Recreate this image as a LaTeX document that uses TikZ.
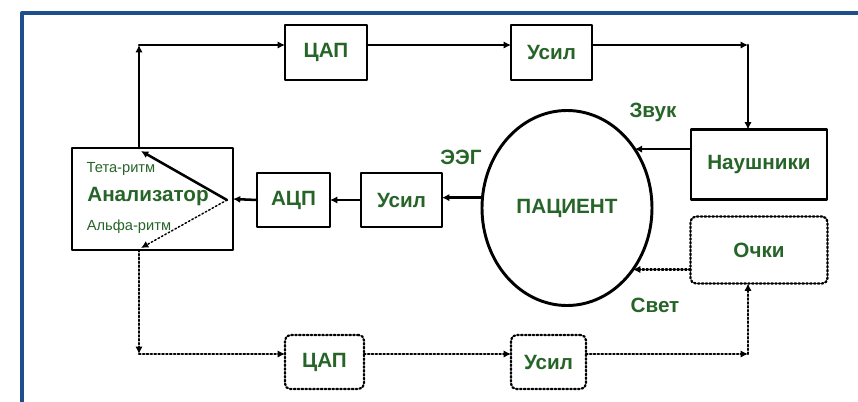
\documentclass[tikz,border=0pt]{standalone}
\usepackage{fontspec}
\setmainfont{Liberation Sans}
\usetikzlibrary{arrows.meta,shapes.geometric}
\definecolor{txtgreen}{RGB}{38,100,40}
\definecolor{frameblue}{RGB}{30,78,140}
\begin{document}
\begin{tikzpicture}[x=.75pt,y=-.75pt,line cap=round,line join=round,
  font=\fontsize{15.5}{18}\selectfont\bfseries,
  blk/.style={draw,line width=2.2pt,inner sep=0pt,outer sep=0pt,text=txtgreen},
  dblk/.style={blk,line width=1.7pt,dash pattern=on 1.2pt off 1.7pt,rounded corners=4pt},
  sig/.style={line width=1.9pt,-{Latex[length=5.5pt,width=5.5pt]}},
  dsig/.style={sig,line width=1.6pt,dash pattern=on 1.2pt off 1.7pt},
  lbl/.style={text=txtgreen,inner sep=0pt},
  smalllbl/.style={lbl,font=\fontsize{11}{13}\selectfont}]
  \useasboundingbox (0,0) rectangle (858,401);
  % frame
  \draw[frameblue,line width=2.5pt] (22,410) -- (22,13) -- (870,13);
  % blocks
  \node[blk,minimum width=61.5pt,minimum height=41.25pt] (dac1) at (326,52.5) {ЦАП};
  \node[blk,minimum width=60.75pt,minimum height=41.25pt] (amp1) at (551.5,52.5) {Усил};
  \node[blk,minimum width=102pt,minimum height=52.5pt] (phones) at (759,164.5) {Наушники};
  \node[dblk,minimum width=102.75pt,minimum height=50.25pt] (glasses) at (759,250) {Очки};
  \node[blk,ellipse,minimum width=127.5pt,minimum height=146.25pt] (patient) at (567,208) {ПАЦИЕНТ};
  \node[blk,minimum width=60.75pt,minimum height=40.5pt] (amp2) at (401.5,200) {Усил};
  \node[blk,minimum width=54.75pt,minimum height=40.5pt] (adc) at (293.5,200) {АЦП};
  \node[blk,minimum width=120.75pt,minimum height=76.5pt] (ana) at (152.5,199) {};
  \node[dblk,minimum width=59.25pt,minimum height=40.5pt] (dac2) at (324.5,362) {ЦАП};
  \node[dblk,minimum width=56.25pt,minimum height=40.5pt] (amp3) at (548.5,362) {Усил};
  % texts
  \node[lbl] (anatxt) at (148,197) {Анализатор};
  \node[smalllbl] (theta) at (121,169) {Тета-ритм};
  \node[smalllbl] (alpha) at (129,227) {Альфа-ритм};
  \node[lbl] (sound) at (653,112) {Звук};
  \node[lbl] (eeg) at (461,157) {ЭЭГ};
  \node[lbl] (light) at (655,305) {Свет};
  % corners
  \coordinate (tl) at (139,45);
  \coordinate (tr) at (748,45);
  \coordinate (bl) at (139,354);
  \coordinate (br) at (748,354);
  \coordinate (ain) at (227,200);
  \coordinate (th) at (141,151);
  \coordinate (ah) at (141,248);
  % feedback, sound
  \draw[sig] (ana.north -| tl) -- (tl);
  \draw[sig] (tl) -- (dac1.west |- tl);
  \draw[sig] (dac1.east |- tl) -- (amp1.west |- tl);
  \draw[sig] (amp1.east |- tl) -- (tr);
  \draw[sig] (tr) -- (phones.north -| tr);
  \draw[sig] (phones.west |- patient.41) -- (patient.41);
  % EEG
  \draw[sig] (patient.173) -- (amp2.east |- patient.173);
  \draw[sig] (amp2.west) -- (adc.east);
  \draw[sig] (adc.west) -- (ana.east);
  \draw[sig] (ain) -- (th);
  \draw[dsig,line width=1.1pt] (ain) -- (ah);
  % feedback, light
  \draw[dsig] (ana.south -| bl) -- (bl);
  \draw[dsig] (bl) -- (dac2.west |- bl);
  \draw[dsig] (dac2.east |- bl) -- (amp3.west |- bl);
  \draw[dsig] (amp3.east |- bl) -- (br);
  \draw[dsig] (br) -- (glasses.south -| br);
  \draw[dsig] (glasses.west |- patient.-43) -- (patient.-43);
\end{tikzpicture}
\end{document}
